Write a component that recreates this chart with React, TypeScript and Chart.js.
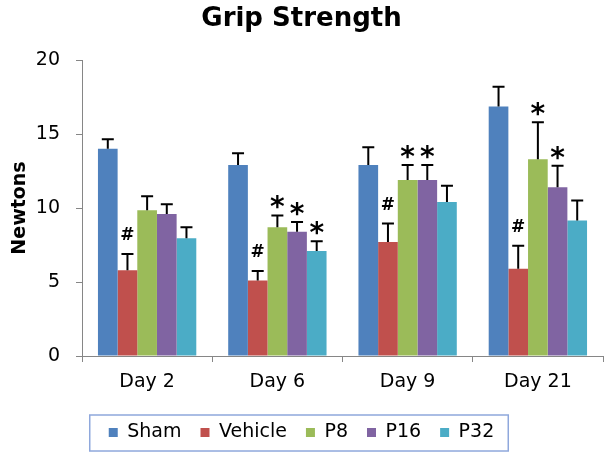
import React, { useEffect, useRef } from 'react';
import { Chart, registerables } from 'chart.js';

Chart.register(...registerables);

const categories = ['Day 2', 'Day 6', 'Day 9', 'Day 21'];
const seriesNames = ['Sham', 'Vehicle', 'P8', 'P16', 'P32'];
const shamValues = [14.0, 12.9, 12.9, 16.85];
const vehicleValues = [5.8, 5.1, 7.7, 5.9];
const p8Values = [9.85, 8.7, 11.9, 13.3];
const p16Values = [9.6, 8.4, 11.9, 11.4];
const p32Values = [7.95, 7.1, 10.4, 9.15];
const shamErrors = [0.65, 0.8, 1.2, 1.35];
const vehicleErrors = [1.1, 0.65, 1.25, 1.55];
const p8Errors = [0.95, 0.8, 1.0, 2.5];
const p16Errors = [0.65, 0.65, 1.0, 1.45];
const p32Errors = [0.75, 0.65, 1.1, 1.35];
const shamMarks = ['', '', '', ''];
const vehicleMarks = ['#', '#', '#', '#'];
const p8Marks = ['', '*', '*', '*'];
const p16Marks = ['', '*', '*', '*'];
const p32Marks = ['', '*', '', ''];
const seriesColors = ['#4F81BD', '#C0504D', '#9BBB59', '#8064A2', '#4BACC6'];
const yMin = 0;
const yMax = 20;
const yStep = 5;

const allValues = [shamValues, vehicleValues, p8Values, p16Values, p32Values];
const allErrors = [shamErrors, vehicleErrors, p8Errors, p16Errors, p32Errors];
const allMarks = [shamMarks, vehicleMarks, p8Marks, p16Marks, p32Marks];

const FONT = '"DejaVu Sans", Arial, sans-serif';

const errorBarPlugin = {
  id: 'errorBars',
  afterDatasetsDraw(chart: any) {
    const ctx = chart.ctx;
    const ys = chart.scales.y;
    chart.data.datasets.forEach((ds: any, di: number) => {
      const meta = chart.getDatasetMeta(di);
      meta.data.forEach((bar: any, i: number) => {
        const v = allValues[di][i];
        const e = allErrors[di][i];
        const x = bar.x;
        const yTop = ys.getPixelForValue(v);
        const yErr = ys.getPixelForValue(v + e);
        ctx.save();
        ctx.strokeStyle = '#000';
        ctx.lineWidth = 2;
        ctx.beginPath();
        ctx.moveTo(x, yTop);
        ctx.lineTo(x, yErr);
        ctx.moveTo(x - 6, yErr);
        ctx.lineTo(x + 6, yErr);
        ctx.stroke();
        const m = allMarks[di][i];
        if (m) {
          ctx.fillStyle = '#000';
          ctx.textAlign = 'center';
          ctx.textBaseline = 'alphabetic';
          let center;
          if (m === '#') {
            ctx.font = 'bold 17px ' + FONT;
            center = yErr - 20;
          } else {
            ctx.font = 'bold 28px ' + FONT;
            center = yErr - 13;
          }
          const tm = ctx.measureText(m);
          const asc = tm.actualBoundingBoxAscent;
          const desc = tm.actualBoundingBoxDescent;
          const baseline = center + (asc - desc) / 2;
          ctx.fillText(m, x, baseline);
        }
        ctx.restore();
      });
    });
  },
};

const legendBorderPlugin = {
  id: 'legendBorder',
  afterDraw(chart: any) {
    const lg = chart.legend;
    if (!lg || !lg.legendHitBoxes || !lg.legendHitBoxes.length) return;
    const hb = lg.legendHitBoxes;
    const first = hb[0];
    const last = hb[hb.length - 1];
    const cy = first.top + 9.5;
    const left = first.left - 19;
    const right = last.left + last.width + 14;
    const top = cy - 17.5;
    const bottom = cy + 18.5;
    const ctx = chart.ctx;
    ctx.save();
    ctx.strokeStyle = '#8FA8DC';
    ctx.lineWidth = 1.5;
    ctx.strokeRect(left, top, right - left, bottom - top);
    ctx.restore();
  },
};

export default function App() {
  const canvasRef = useRef<HTMLCanvasElement | null>(null);

  useEffect(() => {
    const canvas = canvasRef.current;
    if (!canvas) return;
    const chart = new Chart(canvas, {
      type: 'bar',
      data: {
        labels: categories,
        datasets: seriesNames.map((name, di) => ({
          label: name,
          data: allValues[di],
          backgroundColor: seriesColors[di],
          borderWidth: 0,
          categoryPercentage: 0.755,
          barPercentage: 1.0,
        })),
      },
      options: {
        responsive: false,
        animation: false,
        devicePixelRatio: 1,
        layout: { padding: { left: 0, right: 11, top: 0, bottom: 10 } },
        plugins: {
          title: {
            display: true,
            text: 'Grip Strength',
            color: '#000',
            font: { family: FONT, size: 26, weight: 'bold' },
            padding: { top: 4, bottom: 24.8 },
          },
          legend: {
            display: true,
            position: 'bottom',
            labels: {
              boxWidth: 9,
              boxHeight: 9,
              padding: 19,
              color: '#000',
              font: { family: FONT, size: 19 },
            },
          },
          tooltip: { enabled: false },
        },
        scales: {
          x: {
            grid: {
              display: true,
              drawOnChartArea: false,
              drawTicks: true,
              tickLength: 6,
              color: '#868686',
              offset: true,
            },
            border: { display: true, color: '#868686', width: 1 },
            ticks: {
              color: '#000',
              padding: 8.6,
              font: { family: FONT, size: 19 },
              maxRotation: 0,
            },
            afterFit: (scale: any) => {
              scale.height = 48;
            },
          },
          y: {
            min: yMin,
            max: yMax,
            grid: {
              display: true,
              drawOnChartArea: false,
              drawTicks: true,
              tickLength: 6,
              color: '#868686',
            },
            border: { display: true, color: '#868686', width: 1 },
            ticks: {
              stepSize: yStep,
              color: '#000',
              padding: 16,
              font: { family: FONT, size: 19 },
            },
            title: {
              display: true,
              text: 'Newtons',
              color: '#000',
              font: { family: FONT, size: 19, weight: 'bold' },
              padding: { top: 9, bottom: 0 },
            },
            afterFit: (scale: any) => {
              scale.width = 82;
            },
          },
        },
      },
      plugins: [errorBarPlugin, legendBorderPlugin],
    } as any);
    return () => chart.destroy();
  }, []);

  return (
    <div style={{ position: 'fixed', left: 0, top: 0, width: 614, height: 462, background: '#fff' }}>
      <canvas ref={canvasRef} width={614} height={462} style={{ display: 'block' }} />
    </div>
  );
}
